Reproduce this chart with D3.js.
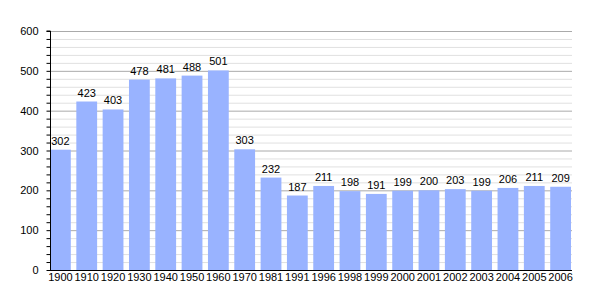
<!DOCTYPE html>
<html><head><meta charset="utf-8">
<script src="https://cdn.jsdelivr.net/npm/d3@7"></script>
<style>body{margin:0;background:#fff}svg{display:block}text{font-family:"Liberation Sans",Arial,sans-serif}</style>
</head><body>
<svg id="c" width="600" height="300"></svg>
<script>
const years = ["1900","1910","1920","1930","1940","1950","1960","1970","1981","1991","1996","1998","1999","2000","2001","2002","2003","2004","2005","2006"];
const population = [302,423,403,478,481,488,501,303,232,187,211,198,191,199,200,203,199,206,211,209];
const yTicks = [0,100,200,300,400,500,600];

const svg = d3.select("#c");
const mLeft = 50, mRight = 571, mTop = 31, mBottom = 270;
const x = d3.scaleBand().domain(years).range([mLeft, mRight]).paddingInner(0.21).paddingOuter(0);
const y = d3.scaleLinear().domain([0, 600]).range([mBottom, mTop]);

// minor grid
const minor = d3.range(20, 601, 20).filter(v => v % 100 !== 0);
svg.append("g").selectAll("line").data(minor).join("line")
  .attr("x1", mLeft).attr("x2", mRight + 1).attr("y1", d => y(d) + 0.5).attr("y2", d => y(d) + 0.5)
  .attr("stroke", "#e0e0e0").attr("stroke-width", 1);
// major grid
svg.append("g").selectAll("line").data(yTicks.filter(v => v > 0)).join("line")
  .attr("x1", mLeft).attr("x2", mRight + 1).attr("y1", d => y(d) + 0.5).attr("y2", d => y(d) + 0.5)
  .attr("stroke", "#aaaaaa").attr("stroke-width", 1);

// bars
svg.append("g").selectAll("rect").data(years).join("rect")
  .attr("x", d => x(d)).attr("width", x.bandwidth())
  .attr("y", (d, i) => y(population[i])).attr("height", (d, i) => y(0) - y(population[i]))
  .attr("fill", "#99b3ff");

// value labels
svg.append("g").selectAll("text").data(years).join("text")
  .attr("x", d => x(d) + x.bandwidth() / 2).attr("y", (d, i) => y(population[i]) - 5)
  .attr("text-anchor", "middle").attr("font-size", 11).attr("fill", "#000")
  .text((d, i) => population[i]);

// y axis
const yAxis = d3.axisLeft(y).tickValues(d3.range(0, 601, 20)).tickSize(4)
  .tickFormat(d => d % 100 === 0 ? d : "");
const ga = svg.append("g").attr("transform", `translate(${mLeft + 0.5},0)`).call(yAxis);
ga.select(".domain").attr("stroke", "#000").attr("d", `M-4,${mTop}H0V${mBottom}`);
ga.selectAll(".tick line").attr("stroke", "#000");
ga.selectAll(".tick text").attr("font-size", 11).attr("font-family", "Liberation Sans, Arial, sans-serif").attr("x", -12).attr("fill", "#000");

// x axis line
svg.append("line").attr("x1", mLeft).attr("x2", mRight + 1).attr("y1", mBottom + 0.5).attr("y2", mBottom + 0.5).attr("stroke", "#000");

// x labels
svg.append("g").selectAll("text").data(years).join("text")
  .attr("x", d => x(d) + x.bandwidth() / 2).attr("y", 281)
  .attr("text-anchor", "middle").attr("font-size", 11).attr("fill", "#000")
  .text(d => d);
</script>
</body></html>
